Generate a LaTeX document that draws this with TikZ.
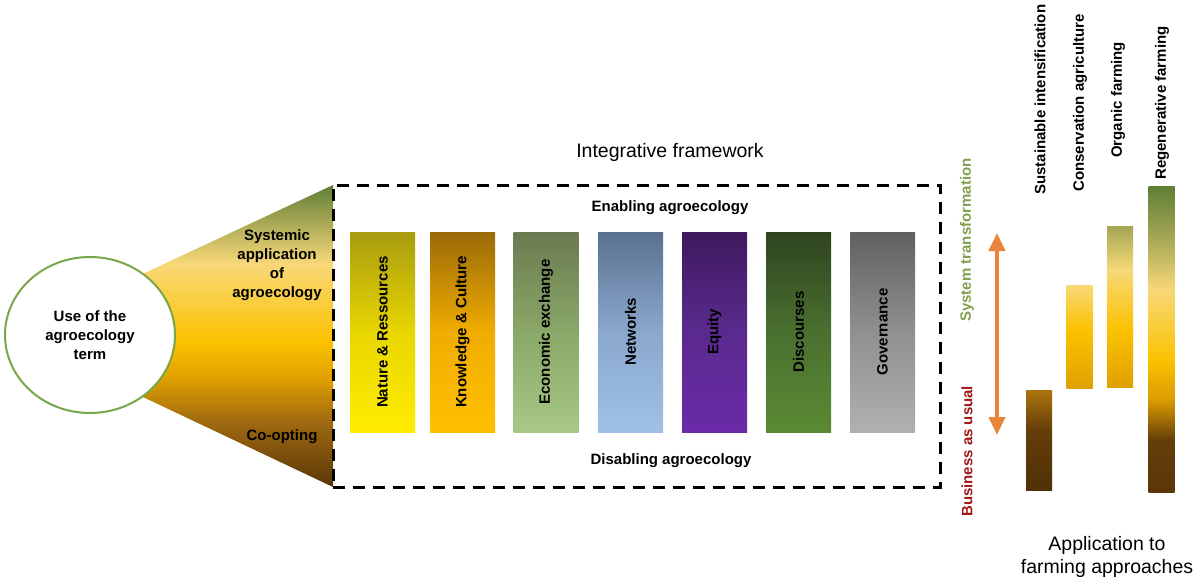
\documentclass[tikz,border=0pt]{standalone}
\usepackage{fontspec}
\setmainfont{Liberation Sans}
\usepackage{graphicx}
\usetikzlibrary{arrows.meta,shapes.geometric}
\definecolor{cgreen}{RGB}{122,166,74}
\definecolor{fA}{RGB}{90,54,8}
\definecolor{fB}{RGB}{160,106,16}
\definecolor{fC}{RGB}{224,160,0}
\definecolor{fD}{RGB}{251,194,0}
\definecolor{fE}{RGB}{248,216,120}
\definecolor{fF}{RGB}{154,160,80}
\definecolor{fG}{RGB}{94,127,52}
\definecolor{orarrow}{RGB}{232,132,60}
\definecolor{stgreen}{RGB}{128,160,80}
\definecolor{bured}{RGB}{160,24,24}
\pgfdeclareverticalshading{funnelsh}{100bp}{color(0bp)=(fA); color(25bp)=(fA); color(36bp)=(fB); color(43bp)=(fC); color(49bp)=(fD); color(62bp)=(fE); color(70bp)=(fF); color(75bp)=(fG); color(100bp)=(fG)}
\pgfdeclareverticalshading{rfsh}{100bp}{color(0bp)=(fA); color(25bp)=(fA); color(33.5bp)=(fA!85!fB); color(40bp)=(fC!90!fB); color(46.6bp)=(fD); color(58bp)=(fE); color(67.8bp)=(fF); color(75bp)=(fG); color(100bp)=(fG)}
\pgfdeclareverticalshading{ofsh}{100bp}{color(0bp)=(fC); color(25bp)=(fC); color(42.7bp)=(fD); color(61.3bp)=(fE); color(75bp)=(fF!90!fE); color(100bp)=(fF!90!fE)}
\pgfdeclareverticalshading{cash}{100bp}{color(0bp)=(fC); color(25bp)=(fC); color(53bp)=(fD); color(75bp)=(fE); color(100bp)=(fE)}
\pgfdeclareverticalshading{sish}{100bp}{color(0bp)=(fA); color(25bp)=(fA!90!black); color(55bp)=(fA!85!fB); color(75bp)=(fB!80!fC); color(100bp)=(fB!80!fC)}
\tikzset{
  fbar/.style={rectangle, minimum width=65pt, minimum height=200pt, inner sep=0pt,
    font=\fontsize{15}{18}\selectfont\bfseries, text=black},
  lab/.style={font=\fontsize{15}{19}\selectfont\bfseries, align=center, inner sep=0pt},
  rlab/.style={font=\fontsize{15}{18}\selectfont\bfseries, rotate=90, anchor=west, inner sep=0pt},
  ttl/.style={font=\fontsize{19.5}{23}\selectfont, align=center, inner sep=0pt},
  fmbar/.style={rectangle, minimum width=26pt, inner sep=0pt}
}
\begin{document}
\begin{tikzpicture}[x=1pt,y=-1pt]
\useasboundingbox (0,0) rectangle (1200,584);
% funnel
\shade[shading=funnelsh] (12,335) -- (333,185) -- (333,487) -- cycle;
\node[ellipse, draw=cgreen, line width=2pt, fill=white, minimum width=170pt, minimum height=156pt, lab] (use) at (90,335) {Use of the\\agroecology\\term};
\node[lab] (sys) at (277,265) {Systemic\\application\\of\\agroecology};
\node[lab] (coopt) at (282,437) {Co-opting};
% framework box
\node[draw, dash pattern=on 12pt off 8pt, line width=3pt, minimum width=607pt, minimum height=302pt, inner sep=0pt] (frame) at (636.5,336) {};
\node[ttl] (intf) at (670,152) {Integrative framework};
\node[lab] (enab) at (670,208) {Enabling agroecology};
\node[lab] (disab) at (671,461) {Disabling agroecology};
% bars
\node[fbar, top color={rgb,255:red,168;green,156;blue,16}, bottom color={rgb,255:red,255;green,236;blue,0}, middle color={rgb,255:red,232;green,214;blue,0}] (b1) at (382.5,332) {\rotatebox{90}{Nature \& Ressources}};
\node[fbar, top color={rgb,255:red,154;green,106;blue,8}, bottom color={rgb,255:red,255;green,192;blue,0}, middle color={rgb,255:red,240;green,172;blue,0}] (b2) at (462.5,332) {\rotatebox{90}{Knowledge \& Culture}};
\node[fbar, top color={rgb,255:red,106;green,122;blue,80}, bottom color={rgb,255:red,168;green,200;blue,136}, middle color={rgb,255:red,138;green,168;blue,104}] (b3) at (546,332) {\rotatebox{90}{Economic exchange}};
\node[fbar, top color={rgb,255:red,90;green,112;blue,144}, bottom color={rgb,255:red,160;green,192;blue,232}, middle color={rgb,255:red,138;green,168;blue,204}] (b4) at (630.5,332) {\rotatebox{90}{Networks}};
\node[fbar, top color={rgb,255:red,62;green,26;blue,94}, bottom color={rgb,255:red,106;green,42;blue,168}, middle color={rgb,255:red,90;green,42;blue,142}] (b5) at (714.5,332) {\rotatebox{90}{Equity}};
\node[fbar, top color={rgb,255:red,46;green,68;blue,32}, bottom color={rgb,255:red,90;green,138;blue,52}, middle color={rgb,255:red,74;green,112;blue,48}] (b6) at (798.5,332) {\rotatebox{90}{Discourses}};
\node[fbar, top color={rgb,255:red,96;green,96;blue,96}, bottom color={rgb,255:red,176;green,176;blue,176}, middle color={rgb,255:red,144;green,144;blue,144}] (b7) at (882.5,332) {\rotatebox{90}{Governance}};
% right side
\node[rlab, text=stgreen] (systr) at (967,322) {System transformation};
\node[rlab, text=bured] (bau) at (967,517) {Business as usual};
\coordinate (atop) at (997,233);
\coordinate (abot) at (997,435);
\draw[orarrow, line width=4pt, {Triangle[width=16pt,length=18pt]}-{Triangle[width=16pt,length=18pt]}] (atop) -- (abot);
% farming bars
\node[fmbar, minimum height=100pt, shading=sish] (si) at (1039,440) {};
\node[fmbar, minimum height=103pt, shading=cash] (ca) at (1079.5,336.5) {};
\node[fmbar, minimum height=161pt, shading=ofsh] (of) at (1120,306.5) {};
\node[fmbar, minimum height=306pt, shading=rfsh] (rf) at (1161.5,339) {};
\node[rlab] (sil) at (1040,195) {Sustainable intensification};
\node[rlab] (cal) at (1080,192) {Conservation agriculture};
\node[rlab] (ofl) at (1118,158) {Organic farming};
\node[rlab] (rfl) at (1162,180) {Regenerative farming};
\node[ttl] (app) at (1107,557) {Application to\\farming approaches};
\end{tikzpicture}
\end{document}
